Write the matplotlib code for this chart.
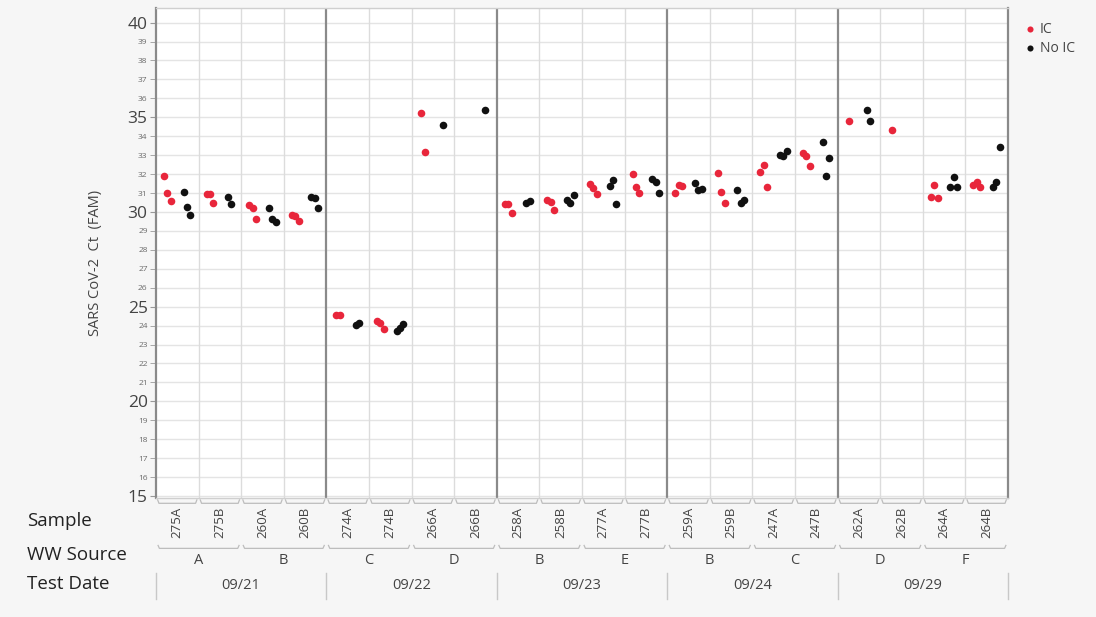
import matplotlib.pyplot as plt
from matplotlib.transforms import blended_transform_factory

plt.rcParams['font.family'] = ['Open Sans', 'DejaVu Sans']

samples = ['275A', '275B', '260A', '260B', '274A', '274B', '266A', '266B',
           '258A', '258B', '277A', '277B', '259A', '259B', '247A', '247B',
           '262A', '262B', '264A', '264B']
ww_source = ['A', 'B', 'C', 'D', 'B', 'E', 'B', 'C', 'D', 'F']
test_dates = ['09/21', '09/22', '09/23', '09/24', '09/29']

# Ct values per sample, internal control (IC) vs no internal control
ic_ct = [
    [31.88, 30.98, 30.56],
    [30.95, 30.95, 30.49],
    [30.37, 30.19, 29.61],
    [29.86, 29.79, 29.53],
    [24.57, 24.55],
    [24.25, 24.16, 23.84],
    [35.20, 33.15],
    [],
    [30.42, 30.42, 29.93],
    [30.65, 30.53, 30.10],
    [31.48, 31.25, 30.95],
    [32.01, 31.34, 30.98],
    [31.00, 31.43, 31.36],
    [32.06, 31.04, 30.46],
    [32.13, 32.49, 31.30],
    [33.10, 32.94, 32.45],
    [34.79],
    [34.34],
    [30.81, 31.43, 30.76],
    [31.43, 31.57, 31.30],
]
noic_ct = [
    [31.07, 30.24, 29.84],
    [30.81, 30.40],
    [30.19, 29.63, 29.45],
    [30.80, 30.72, 30.19],
    [24.04, 24.16],
    [23.72, 23.89, 24.07],
    [34.60],
    [35.37],
    [30.46, 30.60],
    [30.63, 30.46, 30.90],
    [31.36, 31.69, 30.42],
    [31.75, 31.57, 31.00],
    [31.53, 31.16, 31.22],
    [31.16, 30.46, 30.63],
    [33.03, 32.93, 33.20],
    [33.68, 31.92, 32.86],
    [35.40, 34.79],
    [],
    [31.34, 31.83, 31.30],
    [31.34, 31.57, 33.42],
]

RED = '#e8263b'
BLACK = '#111111'
TXT = '#444444'

fig = plt.figure(figsize=(10.96, 6.17), dpi=100, facecolor='#f6f6f6')
ax = fig.add_axes([0.1423, 0.193, 0.7774, 0.794])
ax.set_facecolor('white')

n = len(samples)


def spread(vals, idx, base):
    k = len(vals)
    return [idx + base + (j - (k - 1) / 2) * 0.08 for j in range(k)]


for i in range(n):
    if ic_ct[i]:
        ax.scatter(spread(ic_ct[i], i, 0.27 - 0.5), ic_ct[i], s=30, color=RED,
                   zorder=3, linewidths=0, label='IC' if i == 0 else None)
    if noic_ct[i]:
        ax.scatter(spread(noic_ct[i], i, 0.73 - 0.5), noic_ct[i], s=30, color=BLACK,
                   zorder=3, linewidths=0, label='No IC' if i == 0 else None)

ax.set_xlim(-0.5, n - 0.5)
ax.set_ylim(14.9, 40.77)

# grid: light lines at each Ct unit and each sample, darker at each test date
for y in range(15, 41):
    ax.axhline(y, color='#e4e4e4', lw=1.0, zorder=0)
for b in range(1, n):
    if b % 4 == 0:
        ax.axvline(b - 0.5, color='#8a8a8a', lw=1.6, zorder=1)
    else:
        ax.axvline(b - 0.5, color='#dcdcdc', lw=1.0, zorder=0)

for side in ['left', 'right']:
    ax.spines[side].set_color('#8a8a8a')
    ax.spines[side].set_linewidth(1.6)
for side in ['top', 'bottom']:
    ax.spines[side].set_color('#cfcfcf')
    ax.spines[side].set_linewidth(1.0)

ax.set_yticks(range(15, 41, 5))
ax.set_yticklabels([str(v) for v in range(15, 41, 5)], fontsize=12.5, color=TXT)
ax.set_yticks([v for v in range(15, 41) if v % 5], minor=True)
ax.set_yticklabels([str(v) for v in range(15, 41) if v % 5], minor=True,
                   fontsize=6, color='#6a6a6a')
ax.tick_params(axis='y', which='both', length=4, color='#999999', pad=2)
ax.set_xticks([])
ax.set_ylabel('SARS CoV-2  Ct  (FAM)', fontsize=10.5, color=TXT)
ax.yaxis.set_label_coords(-0.062, 0.48)

tr = blended_transform_factory(ax.transData, ax.transAxes)

# sample row: small bracket under each column and rotated label
for i, s in enumerate(samples):
    ax.plot([i - 0.46, i - 0.43, i + 0.43, i + 0.46], [-0.004, -0.011, -0.011, -0.004],
            transform=tr, clip_on=False, color='#bdbdbd', lw=0.9)
    ax.text(i, -0.018, s, transform=tr, rotation=90, ha='center', va='top',
            fontsize=9.5, color=TXT)

# WW source row: bracket spanning each pair of samples
for g, src in enumerate(ww_source):
    x0, x1 = 2 * g - 0.45, 2 * g + 1.45
    ax.plot([x0, x0 + 0.03, x1 - 0.03, x1], [-0.097, -0.103, -0.103, -0.097],
            transform=tr, clip_on=False, color='#bdbdbd', lw=0.9)
    ax.text(2 * g + 0.5, -0.127, src, transform=tr, ha='center', va='center',
            fontsize=10.5, color=TXT)

# test date row: separators and labels
for d in range(len(test_dates) + 1):
    ax.plot([4 * d - 0.5, 4 * d - 0.5], [-0.153, -0.206], transform=tr,
            clip_on=False, color='#c8c8c8', lw=1.0)
for d, date in enumerate(test_dates):
    ax.text(4 * d + 1.5, -0.179, date, transform=tr, ha='center', va='center',
            fontsize=10.5, color=TXT)

for label, ypx in [('Sample', 521), ('WW Source', 555), ('Test Date', 584)]:
    fig.text(27 / 1096, 1 - ypx / 617, label, ha='left', va='center',
             fontsize=13.5, color='#222222')

leg = ax.legend(loc='upper left', bbox_to_anchor=(1.0, 1.0), frameon=False,
                fontsize=10, handletextpad=0.1, labelspacing=0.3,
                markerscale=0.8, borderaxespad=0.6, handlelength=1.2)
for t in leg.get_texts():
    t.set_color(TXT)

fig.savefig('out.png', dpi=100, facecolor=fig.get_facecolor())
